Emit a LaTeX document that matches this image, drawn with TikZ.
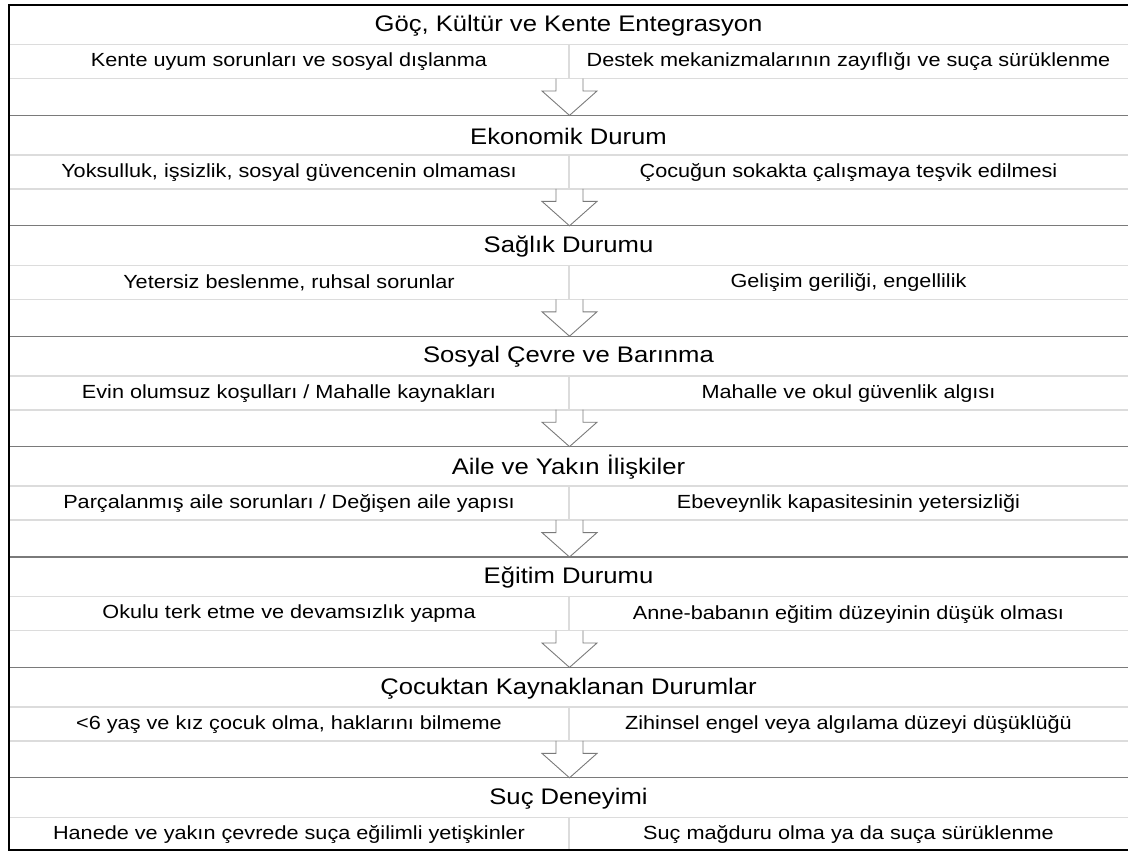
\documentclass[tikz,border=0pt]{standalone}
\usepackage{fontspec}
\setmainfont{Liberation Sans}[FakeStretch=1.14]
\definecolor{rulegray}{HTML}{7A7A7A}
\definecolor{faintgray}{HTML}{DCDCDC}
\tikzset{
  headtext/.style={font=\fontsize{22.5}{26}\selectfont},
  celltext/.style={font=\fontsize{19}{22}\selectfont},
  faintline/.style={draw=faintgray, line width=1.6pt},
  grayline/.style={draw=rulegray, line width=1.3pt},
  blockarrow/.style={draw=rulegray, line width=0.9pt},
}
\begin{document}
\begin{tikzpicture}[x=1pt,y=-1pt]
	\useasboundingbox (0,0) rectangle (1128,852);
	% rows of the table
	\foreach \i/\ttl/\lft/\rgt in {
		0/{Göç, Kültür ve Kente Entegrasyon}/{Kente uyum sorunları ve sosyal dışlanma}/{Destek mekanizmalarının zayıflığı ve suça sürüklenme},
		1/{Ekonomik Durum}/{Yoksulluk, işsizlik, sosyal güvencenin olmaması}/{Çocuğun sokakta çalışmaya teşvik edilmesi},
		2/{Sağlık Durumu}/{Yetersiz beslenme, ruhsal sorunlar}/{Gelişim geriliği, engellilik},
		3/{Sosyal Çevre ve Barınma}/{Evin olumsuz koşulları / Mahalle kaynakları}/{Mahalle ve okul güvenlik algısı},
		4/{Aile ve Yakın İlişkiler}/{Parçalanmış aile sorunları / Değişen aile yapısı}/{Ebeveynlik kapasitesinin yetersizliği},
		5/{Eğitim Durumu}/{Okulu terk etme ve devamsızlık yapma}/{Anne-babanın eğitim düzeyinin düşük olması},
		6/{Çocuktan Kaynaklanan Durumlar}/{<6 yaş ve kız çocuk olma, haklarını bilmeme}/{Zihinsel engel veya algılama düzeyi düşüklüğü},
		7/{Suç Deneyimi}/{Hanede ve yakın çevrede suça eğilimli yetişkinler}/{Suç mağduru olma ya da suça sürüklenme}}{
		\pgfmathsetmacro{\s}{5+110.4*\i}
		\pgfmathsetmacro{\e}{min(\s+73.5,850)}
		\draw[faintline] (9,\s+39.5) -- (1128,\s+39.5);
		\draw[faintline] (569,\s+39.5) -- (569,\e);
		\ifnum\i<7
			\draw[faintline] (9,\s+73.5) -- (1128,\s+73.5);
		\fi
		\ifnum\i>0
			\draw[grayline] (9,\s) -- (1128,\s);
		\fi
		\node[headtext] (t\i) at (568.5,\s+21) {\ttl};
		\node[celltext] (l\i) at (289,\s+57) {\lft};
		\node[celltext] (r\i) at (848.5,\s+57) {\rgt};
	}
	% arrows between the rows
	\foreach \i in {0,...,6}{
		\pgfmathsetmacro{\s}{5+110.4*\i}
		\coordinate (a\i) at (569.5,\s+73.5);
		\draw[blockarrow] ([xshift=-13.5pt]a\i) -- ++(0,12.5) -- ++(-14,0)
			-- ++(27.5,24.4) -- ++(27.5,-24.4) -- ++(-14,0) -- ++(0,-12.5);
	}
	% frame
	\draw[line width=2pt] (1128,5) -- (9,5) -- (9,850) -- (1128,850);
\end{tikzpicture}
\end{document}
